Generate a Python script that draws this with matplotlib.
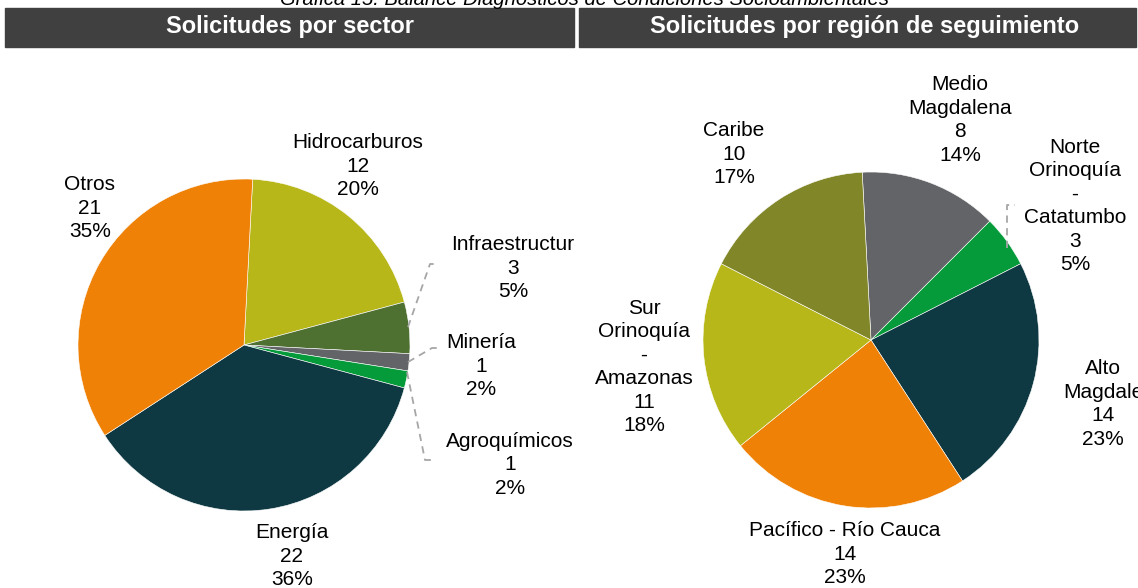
import matplotlib.pyplot as plt
from matplotlib.patches import Rectangle

W, H = 1138, 588

# =============================
# DATA
# =============================
sector_labels = ["Hidrocarburos", "Infraestructur", "Minería", "Agroquímicos", "Energía", "Otros"]
sector_values = [12, 3, 1, 1, 22, 21]
sector_pct = ["20%", "5%", "2%", "2%", "36%", "35%"]
sector_colors = ["#B8B71A", "#4E7030", "#636468", "#059B3A", "#0E3942", "#EE8106"]

region_labels = ["Medio\nMagdalena", "Norte\nOrinoquía\n-\nCatatumbo", "Alto\nMagdale",
                 "Pacífico - Río Cauca", "Sur\nOrinoquía\n-\nAmazonas", "Caribe"]
region_values = [8, 3, 14, 14, 11, 10]
region_pct = ["14%", "5%", "23%", "23%", "18%", "17%"]
region_colors = ["#636468", "#059B3A", "#0E3942", "#EE8106", "#B8B71A", "#818728"]

# label anchor positions in pixels (x, y from top)
sector_label_pos = [(358, 166), (513, 268), (481, 366), (510, 465), (292, 556), (90, 208)]
region_label_pos = [(960, 120), (1075, 206), (1103, 404), (845, 554), (644, 367), (734, 154)]

# leader lines (pixels)
sector_leaders = {
    1: [(408, 327), (430, 264), (438, 264)],
    2: [(408, 362), (432, 348), (439, 348)],
    3: [(407, 372), (425, 460), (435, 460)],
}
region_leaders = {
    1: [(1007, 248), (1007, 205), (1015, 205)],
}

# =============================
# FIGURE
# =============================
fig = plt.figure(figsize=(W / 100, H / 100), dpi=100)
ax = fig.add_axes([0, 0, 1, 1])

def py(y):
    return H - y

ax.pie(sector_values, colors=sector_colors, startangle=87, counterclock=False,
       center=(244, py(345)), radius=166,
       wedgeprops=dict(edgecolor="white", linewidth=0.4))
ax.pie(region_values, colors=region_colors, startangle=93, counterclock=False,
       center=(871, py(340)), radius=168,
       wedgeprops=dict(edgecolor="white", linewidth=0.4))

ax.set_xlim(0, W)
ax.set_ylim(0, H)
ax.set_aspect("equal")
ax.axis("off")

label_font = dict(fontsize=15, family=["Liberation Sans", "DejaVu Sans"],
                  ha="center", va="center", linespacing=1.3, color="black")

for lab, v, p, (x, y) in zip(sector_labels, sector_values, sector_pct, sector_label_pos):
    ax.text(x, py(y), f"{lab}\n{v}\n{p}", **label_font)
for lab, v, p, (x, y) in zip(region_labels, region_values, region_pct, region_label_pos):
    ax.text(x, py(y), f"{lab}\n{v}\n{p}", **label_font)

for pts in list(sector_leaders.values()) + list(region_leaders.values()):
    xs = [p[0] for p in pts]
    ys = [py(p[1]) for p in pts]
    ax.plot(xs, ys, color="#A6A6A6", lw=1.3, ls=(0, (4, 3)))

# =============================
# HEADERS
# =============================
hdr_font = dict(color="white", fontsize=17, fontweight="bold",
                family=["Liberation Sans", "DejaVu Sans"],
                ha="center", va="center")
fig.patches.append(Rectangle((5 / W, py(47) / H), 569 / W, 39 / H,
                             transform=fig.transFigure, color="#404040"))
fig.patches.append(Rectangle((579 / W, py(47) / H), 557 / W, 39 / H,
                             transform=fig.transFigure, color="#404040"))
fig.text(290 / W, py(27) / H, "Solicitudes por sector", **hdr_font)
fig.text(865 / W, py(27) / H, "Solicitudes por región de seguimiento", **hdr_font)

# caption at the very top (partly cut off, as in the source)
fig.text(585 / W, py(5) / H, "Gráfica 15. Balance Diagnósticos de Condiciones Socioambientales",
         fontsize=14.5, style="italic", family=["Liberation Sans", "DejaVu Sans"],
         ha="center", va="baseline", color="black")

plt.savefig("out.png", dpi=100)
plt.close()
